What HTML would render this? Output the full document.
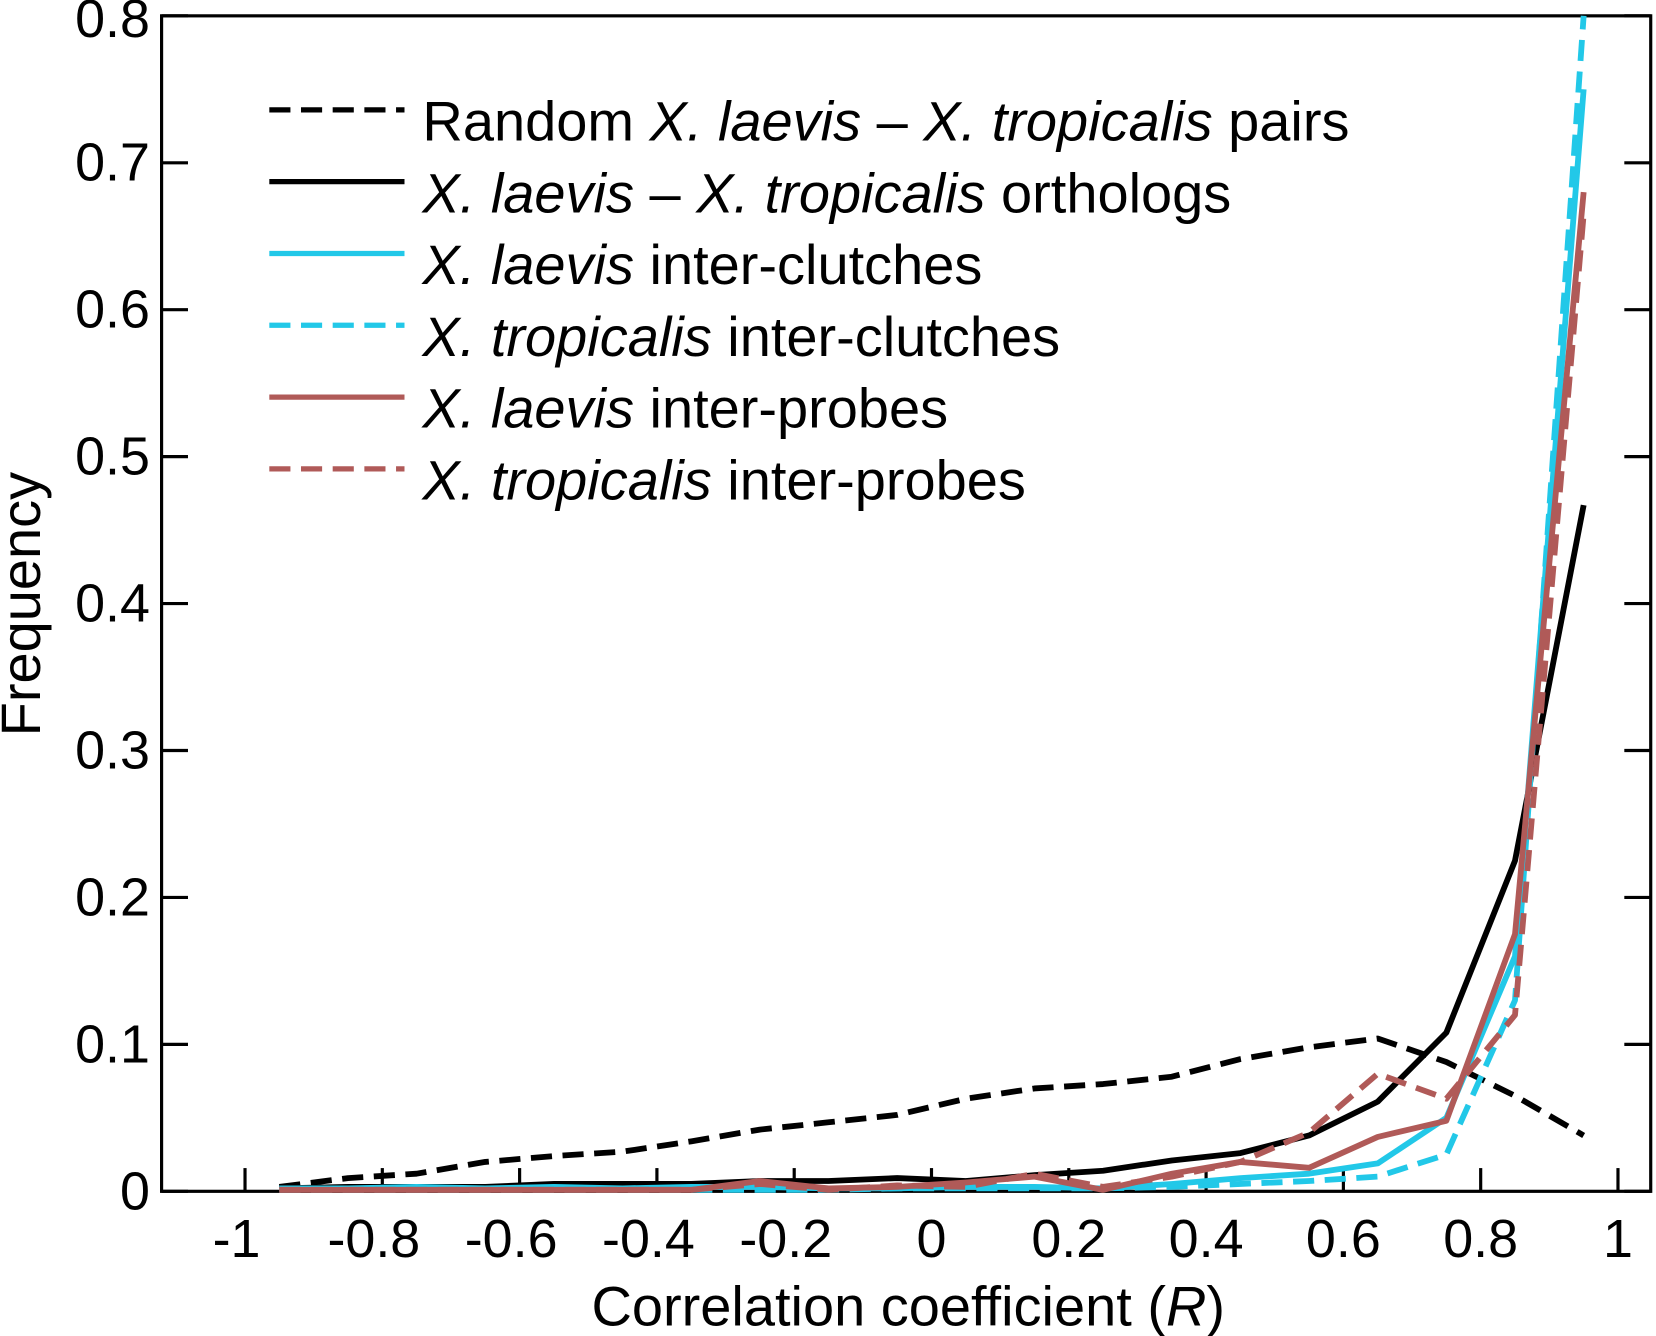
<!DOCTYPE html>
<html><head><meta charset="utf-8"><style>
html,body{margin:0;padding:0;background:#fff}
svg{display:block}
text{font-family:"Liberation Sans",sans-serif;fill:#000}
</style></head><body>
<svg width="1656" height="1336" viewBox="0 0 1568 1265" preserveAspectRatio="none">
<g id="plot"></g>
</svg>
<script>
const xs = [-0.95,-0.85,-0.75,-0.65,-0.55,-0.45,-0.35,-0.25,-0.15,-0.05,0.05,0.15,0.25,0.35,0.45,0.55,0.65,0.75,0.85,0.95];
const randomPairs = [0.003,0.009,0.012,0.020,0.024,0.027,0.034,0.042,0.047,0.052,0.063,0.070,0.073,0.078,0.090,0.098,0.104,0.088,0.065,0.038];
const orthologs = [0.002,0.003,0.003,0.003,0.005,0.005,0.005,0.007,0.007,0.009,0.007,0.011,0.014,0.021,0.026,0.038,0.061,0.108,0.225,0.467];
const laevisClutches = [0.002,0.002,0.003,0.002,0.003,0.002,0.003,0.003,0.002,0.002,0.003,0.003,0.002,0.005,0.009,0.012,0.019,0.050,0.160,0.750];
const tropClutches = [0.001,0.001,0.001,0.001,0.001,0.001,0.001,0.001,0.001,0.002,0.002,0.002,0.002,0.003,0.005,0.007,0.010,0.025,0.130,0.800];
const laevisProbes = [0.001,0.001,0.001,0.001,0.001,0.001,0.001,0.007,0.002,0.003,0.006,0.010,0.001,0.012,0.020,0.016,0.037,0.048,0.175,0.680];
const tropProbes = [0.001,0.001,0.001,0.001,0.001,0.001,0.001,0.005,0.001,0.004,0.003,0.012,0.003,0.010,0.020,0.040,0.080,0.063,0.120,0.665];
const xTicks = [-1,-0.8,-0.6,-0.4,-0.2,0,0.2,0.4,0.6,0.8,1];
const xTickLabels = ["-1","-0.8","-0.6","-0.4","-0.2","0","0.2","0.4","0.6","0.8","1"];
const yTicks = [0,0.1,0.2,0.3,0.4,0.5,0.6,0.7,0.8];
const yTickLabels = ["0","0.1","0.2","0.3","0.4","0.5","0.6","0.7","0.8"];

const L=153,R=1563,T=15,B=1128;
const sx = v => 882 + v*650;
const sy = v => B - v*(B-T)/0.8;
const NS="http://www.w3.org/2000/svg";
const g=document.getElementById('plot');
function mk(tag,attrs,parent){const e=document.createElementNS(NS,tag);for(const k in attrs)e.setAttribute(k,attrs[k]);(parent||g).appendChild(e);return e;}

const box=mk('rect',{x:L,y:T,width:R-L,height:B-T,fill:'none',stroke:'#000','stroke-width':3});



xTicks.forEach((v,i)=>{
  const t=mk('line',{x1:sx(v),x2:sx(v),y1:B,y2:B-22,stroke:'#000','stroke-width':3});
  
  
  const lb=mk('text',{x:sx(v)+(v<0?-8:0),y:B+62,'font-size':51,'text-anchor':'middle'});
  lb.textContent=xTickLabels[i];
  
  
});
yTicks.forEach((v,i)=>{
  const t1=mk('line',{x1:L,x2:L+25,y1:sy(v),y2:sy(v),stroke:'#000','stroke-width':3});
  
  
  const t2=mk('line',{x1:R,x2:R-25,y1:sy(v),y2:sy(v),stroke:'#000','stroke-width':3});
  
  
  const lb=mk('text',{x:142,y:sy(v)+(v===0.8?20:17),'font-size':51,'text-anchor':'end'});
  lb.textContent=yTickLabels[i];
  
  
});

const series=[
 {d:randomPairs,c:'#000',dash:'20,10',name:'series-random-pairs'},
 {d:orthologs,c:'#000',dash:'',name:'series-orthologs'},
 {d:laevisClutches,c:'#22c8e8',dash:'',name:'series-laevis-inter-clutches'},
 {d:tropClutches,c:'#22c8e8',dash:'20,10',name:'series-tropicalis-inter-clutches'},
 {d:laevisProbes,c:'#b05a58',dash:'',name:'series-laevis-inter-probes'},
 {d:tropProbes,c:'#b05a58',dash:'20,10',name:'series-tropicalis-inter-probes'}
];
series.forEach(s=>{
  const pts=s.d.map((v,i)=>sx(xs[i])+','+sy(v)).join(' ');
  const p=mk('polyline',{points:pts,fill:'none',stroke:s.c,'stroke-width':5.5,'stroke-dasharray':s.dash,'stroke-linejoin':'round'});
  
  
});

const legend=[
 {c:'#000',dash:'20,10',html:'Random <tspan font-style="italic">X. laevis</tspan> – <tspan font-style="italic">X. tropicalis</tspan> pairs'},
 {c:'#000',dash:'',html:'<tspan font-style="italic">X. laevis</tspan> – <tspan font-style="italic">X. tropicalis</tspan> orthologs'},
 {c:'#22c8e8',dash:'',html:'<tspan font-style="italic">X. laevis</tspan> inter-clutches'},
 {c:'#22c8e8',dash:'20,10',html:'<tspan font-style="italic">X. tropicalis</tspan> inter-clutches'},
 {c:'#b05a58',dash:'',html:'<tspan font-style="italic">X. laevis</tspan> inter-probes'},
 {c:'#b05a58',dash:'20,10',html:'<tspan font-style="italic">X. tropicalis</tspan> inter-probes'}
];
legend.forEach((e,i)=>{
  const y=104+i*68;
  const ln=mk('line',{x1:255,x2:383,y1:y,y2:y,stroke:e.c,'stroke-width':5,'stroke-dasharray':e.dash});
  
  
  const t=mk('text',{x:400,y:y+29,'font-size':53});
  t.innerHTML=e.html;
  
  
});

const xt=mk('text',{x:860,y:1255,'font-size':53,'text-anchor':'middle'});
xt.innerHTML='Correlation coefficient (<tspan font-style="italic">R</tspan>)';


const yt=mk('text',{x:0,y:0,'font-size':53,'text-anchor':'middle',transform:'translate(38,572) rotate(-90)'});
yt.textContent='Frequency';


</script>
</body></html>
